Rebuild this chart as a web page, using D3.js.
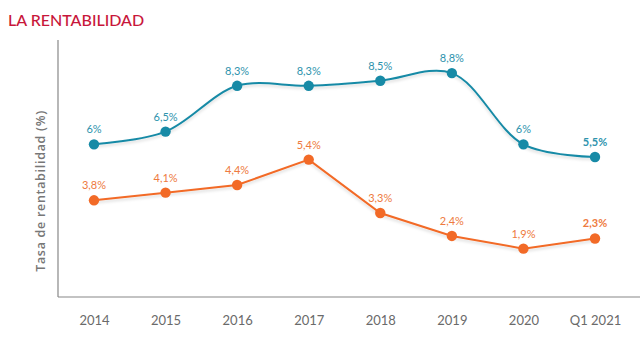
<!DOCTYPE html>
<html><head><meta charset="utf-8">
<script src="https://cdn.jsdelivr.net/npm/d3@7"></script>
<style>body{margin:0;background:#fff;}svg{display:block;}</style>
</head><body>
<svg id="c" width="640" height="338"></svg>
<script>
const categories = ["2014","2015","2016","2017","2018","2019","2020","Q1 2021"];
const blueValues = [6.0,6.5,8.3,8.3,8.5,8.8,6.0,5.5];
const blueLabels = ["6%","6,5%","8,3%","8,3%","8,5%","8,8%","6%","5,5%"];
const orangeValues = [3.8,4.1,4.4,5.4,3.3,2.4,1.9,2.3];
const orangeLabels = ["3,8%","4,1%","4,4%","5,4%","3,3%","2,4%","1,9%","2,3%"];
const title = "LA RENTABILIDAD";
const yTitle = "Tasa de rentabilidad (%)";

const svg = d3.select("#c");
const x = d3.scalePoint().domain(categories).range([94,595]);
const y = d3.scaleLinear().domain([0,10.1]).range([297,40]);

svg.append("text").attr("x",8).attr("y",26).text(title)
  .attr("font-family","Lato").attr("font-size",16).attr("font-weight",500)
  .attr("fill","#c8163a");

svg.append("line").attr("x1",58).attr("x2",58).attr("y1",40).attr("y2",297).attr("stroke","#888").attr("stroke-width",1.2);
svg.append("line").attr("x1",58).attr("x2",640).attr("y1",297).attr("y2",297).attr("stroke","#888").attr("stroke-width",1.2);

const xAxis = svg.append("g").attr("transform","translate(0,297)")
  .call(d3.axisBottom(x).tickSize(0).tickPadding(19));
xAxis.select(".domain").remove();
xAxis.selectAll("text").attr("font-family","Lato").attr("font-size",13).attr("font-weight",400).attr("fill","#6a6a6a");

svg.append("text").attr("transform","translate(45,191) rotate(-90)")
  .attr("text-anchor","middle").text(yTitle)
  .attr("font-family","Open Sans").attr("font-size",12.5).attr("font-weight",600)
  .attr("fill","#777").attr("letter-spacing",0.7);

const defs = svg.append("defs");
const f = defs.append("filter").attr("id","sh").attr("x","-10%").attr("y","-20%").attr("width","120%").attr("height","140%");
f.append("feDropShadow").attr("dx",0).attr("dy",2).attr("stdDeviation",1.5).attr("flood-color","#000").attr("flood-opacity",0.15);

function series(vals, labels, color, labColor, curve){
  const data = categories.map((c,i)=>({c, v:vals[i], l:labels[i], i}));
  svg.append("path").datum(data)
    .attr("d", d3.line().x(d=>x(d.c)).y(d=>y(d.v)).curve(curve))
    .attr("fill","none").attr("stroke",color).attr("stroke-width",2).attr("filter","url(#sh)");
  svg.append("g").selectAll("circle").data(data).join("circle")
    .attr("cx",d=>x(d.c)).attr("cy",d=>y(d.v)).attr("r",5.2).attr("fill",color);
  svg.append("g").selectAll("text").data(data).join("text")
    .attr("x",d=>x(d.c)).attr("y",d=>y(d.v)-11).attr("text-anchor","middle")
    .text(d=>d.l).attr("font-family","Lato").attr("font-size",11)
    .attr("font-weight",d=>d.i===categories.length-1?700:400)
    .attr("fill",labColor);
}
series(blueValues, blueLabels, "#178aa6", "#2e93ad", d3.curveCatmullRom.alpha(0.5));
series(orangeValues, orangeLabels, "#f26a27", "#ee7a40", d3.curveLinear);
</script>
</body></html>
